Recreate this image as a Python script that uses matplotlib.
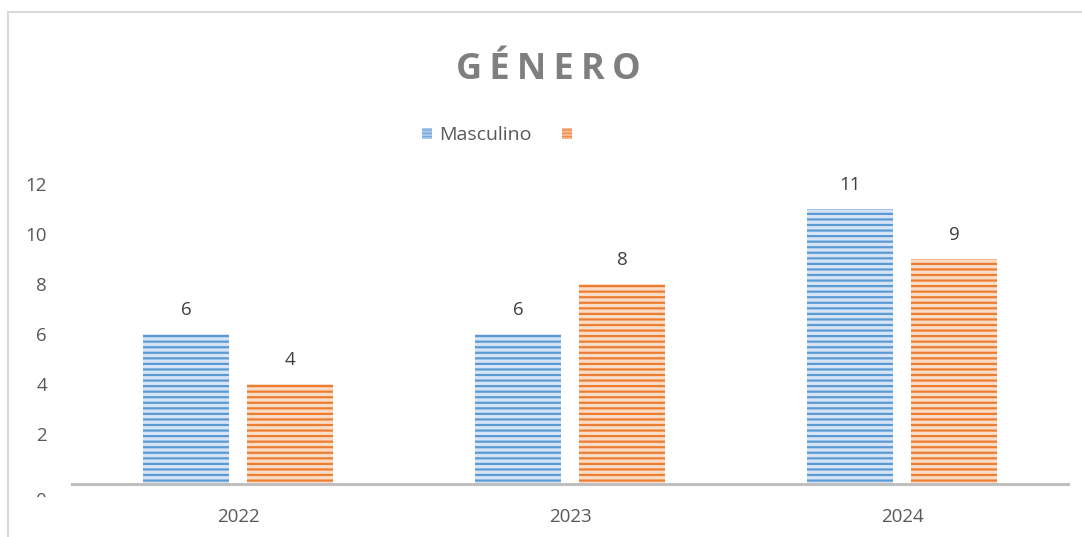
import numpy as np
import matplotlib.pyplot as plt
from matplotlib.patches import Rectangle, Patch
from matplotlib.lines import Line2D

years = ['2022', '2023', '2024']
masculino = [6, 6, 11]
femenino = [4, 8, 9]
y_ticks = [2, 4, 6, 8, 10, 12]

plt.rcParams['font.family'] = ['Open Sans', 'DejaVu Sans']
plt.rcParams['hatch.linewidth'] = 1.6

W, H = 1082, 537
fig = plt.figure(figsize=(W / 100, H / 100), dpi=100)

# chart border (only left and top visible in the reference)
fig.add_artist(Line2D([8 / W, 8 / W], [0, 1 - 12 / H], transform=fig.transFigure,
                      color='#d9d9d9', lw=1.5))
fig.add_artist(Line2D([8 / W, 1], [1 - 12 / H, 1 - 12 / H], transform=fig.transFigure,
                      color='#d9d9d9', lw=1.5))

ax = fig.add_axes([72 / W, (H - 484) / H, 996 / W, 300 / H])
x = np.arange(len(years))
bw = 0.26
off = 0.157

b1 = ax.bar(x - off, masculino, bw, color='#d6e4f5', edgecolor='#5b9bd5',
            hatch='---', linewidth=0)
b2 = ax.bar(x + off, femenino, bw, color='#fbdcc6', edgecolor='#ed7d31',
            hatch='---', linewidth=0)

for bars, vals in ((b1, masculino), (b2, femenino)):
    for r, v in zip(bars, vals):
        ax.annotate(str(v), (r.get_x() + r.get_width() / 2, v),
                    xytext=(0, 17.5), textcoords='offset points',
                    ha='center', va='center', fontsize=13.5, color='#404040')

ax.set_xlim(-0.5, 2.5)
ax.set_ylim(0, 12)
ax.set_xticks(x)
ax.set_xticklabels(years, fontsize=13.5, color='#595959')
ax.set_yticks(y_ticks)
ax.set_yticklabels([str(t) for t in y_ticks], fontsize=13.5, color='#595959')
ax.tick_params(axis='both', length=0)
ax.tick_params(axis='x', pad=17)
ax.tick_params(axis='y', pad=18)
for s in ('top', 'right', 'left'):
    ax.spines[s].set_visible(False)
ax.spines['bottom'].set_color('#bfbfbf')
ax.spines['bottom'].set_linewidth(2.2)
ax.spines['bottom'].set_zorder(5)

# the "0" label sits low and is cut off in the reference
fig.text(47 / W, 1 - 501 / H, '0', ha='right', va='center',
         fontsize=13.5, color='#595959')
fig.add_artist(Rectangle((20 / W, (H - 520) / H), 45 / W, 23 / H,
                         transform=fig.transFigure, facecolor='white',
                         edgecolor='none', zorder=10))

fig.text(548 / W, 1 - 70 / H, 'G\u2009É\u2009N\u2009E\u2009R\u2009O', ha='center',
         va='center', fontsize=26, fontweight='bold', color='#7f7f7f')

handles = [Patch(facecolor='#6fa6dc', edgecolor='#a9c8ea', hatch='-----', linewidth=0),
           Patch(facecolor='#ef8842', edgecolor='#f6b98f', hatch='-----', linewidth=0)]
ax.legend(handles, ['Masculino', ' '], loc='center',
          bbox_to_anchor=(503 / W, 1 - 135 / H),
          bbox_transform=fig.transFigure, ncol=2, frameon=False,
          fontsize=14, handlelength=0.5, handleheight=0.5,
          handletextpad=0.35, columnspacing=1.6, labelcolor='#595959')

fig.savefig('out.png', dpi=100)
